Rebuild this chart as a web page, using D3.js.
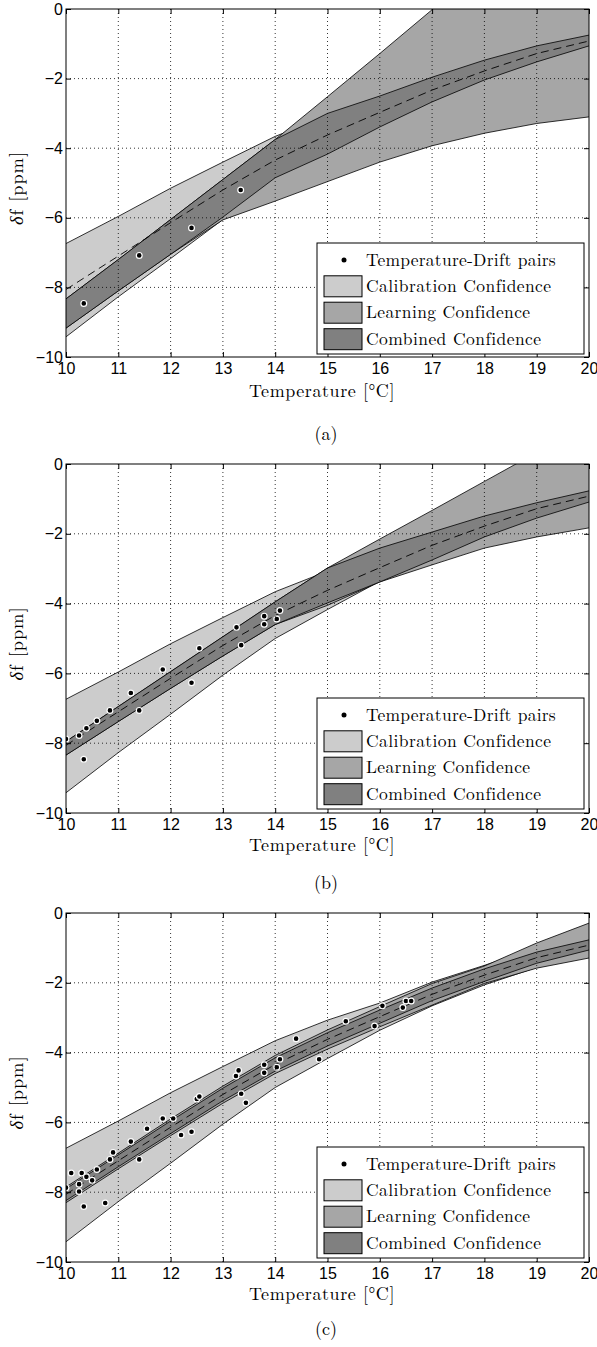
<!DOCTYPE html>
<html>
<head>
<meta charset="utf-8">
<script src="https://cdn.jsdelivr.net/npm/d3@7"></script>
<style>
  body { margin: 0; background: #fff; }
</style>
</head>
<body>
<svg id="chart" width="597" height="1347"></svg>
<script>
// temperature grid shared by every band
const temps = [10, 11, 12, 13, 14, 15, 16, 17, 18, 19, 20];

// calibration model (same in all three panels)
const calibMean  = [-8.06, -7.10, -6.14, -5.20, -4.34, -3.62, -2.97, -2.33, -1.78, -1.28, -0.92];
const calibUpper = [-6.74, -5.96, -5.15, -4.40, -3.66, -3.07, -2.58, -1.98, -1.50, -1.00, -0.62];
const calibLower = [-9.42, -8.27, -7.17, -6.05, -5.00, -4.17, -3.36, -2.66, -2.06, -1.56, -1.22];

// (a) few samples
const learnUpperA = [-8.33, -7.20, -6.05, -4.90, -3.75, -2.52, -1.28, -0.02, 1.25, 2.50, 3.80];
const learnLowerA = [-9.17, -8.10, -7.05, -6.06, -5.52, -4.96, -4.40, -3.93, -3.57, -3.29, -3.10];
const combUpperA  = [-8.33, -7.20, -6.05, -4.90, -3.75, -3.00, -2.50, -1.96, -1.47, -1.06, -0.75];
const combLowerA  = [-9.17, -8.10, -7.05, -5.98, -4.85, -4.17, -3.39, -2.67, -2.04, -1.52, -1.06];

// (b) more samples
const learnUpperB = [-7.95, -6.95, -5.95, -4.95, -3.95, -2.98, -2.15, -1.33, -0.50, 0.33, 1.15];
const learnLowerB = [-8.34, -7.38, -6.43, -5.50, -4.60, -4.05, -3.38, -2.89, -2.41, -2.09, -1.83];
const combUpperB  = [-7.95, -6.95, -5.95, -4.95, -3.95, -2.98, -2.41, -1.95, -1.49, -1.11, -0.77];
const combLowerB  = [-8.34, -7.38, -6.43, -5.50, -4.60, -3.98, -3.38, -2.75, -2.09, -1.55, -1.09];

// (c) all samples
const learnUpperC = [-7.85, -6.88, -5.90, -4.96, -4.08, -3.35, -2.68, -2.02, -1.52, -0.86, -0.29];
const learnLowerC = [-8.30, -7.33, -6.38, -5.45, -4.60, -3.90, -3.26, -2.64, -2.02, -1.58, -1.29];
const combUpperC  = [-7.90, -6.93, -5.96, -5.02, -4.15, -3.43, -2.78, -2.15, -1.60, -1.12, -0.77];
const combLowerC  = [-8.24, -7.27, -6.32, -5.38, -4.53, -3.81, -3.16, -2.51, -1.96, -1.44, -1.06];

// temperature-drift pairs
const pointsA = [[10.34, -8.46], [11.40, -7.08], [12.40, -6.29], [13.34, -5.20]];
const pointsB = [
  [10.00, -7.88], [10.25, -7.78], [10.34, -8.46], [10.39, -7.57], [10.59, -7.36],
  [10.84, -7.06], [11.24, -6.56], [11.40, -7.06], [11.85, -5.89], [12.40, -6.27],
  [12.55, -5.28], [13.26, -4.68], [13.35, -5.19], [13.79, -4.36], [13.79, -4.59],
  [14.03, -4.44], [14.09, -4.20]
];
const pointsC = [
  [10.00, -7.87], [10.10, -7.45], [10.25, -7.77], [10.25, -7.98], [10.30, -7.45],
  [10.34, -8.41], [10.39, -7.56], [10.50, -7.66], [10.59, -7.35], [10.75, -8.31],
  [10.84, -7.06], [10.90, -6.86], [11.24, -6.55], [11.40, -7.06], [11.55, -6.18],
  [11.85, -5.89], [12.05, -5.89], [12.20, -6.36], [12.40, -6.27], [12.50, -5.33],
  [12.55, -5.26], [13.25, -4.67], [13.30, -4.51], [13.35, -5.18], [13.44, -5.44],
  [13.79, -4.58], [13.79, -4.35], [14.03, -4.42], [14.09, -4.19], [14.40, -3.60],
  [14.84, -4.19], [15.35, -3.10], [15.90, -3.24], [16.05, -2.66], [16.44, -2.71],
  [16.50, -2.52], [16.60, -2.52]
];

const xTicks = [10, 11, 12, 13, 14, 15, 16, 17, 18, 19, 20];
const yTicks = [-10, -8, -6, -4, -2, 0];
const legendLabels = ['Temperature-Drift pairs', 'Calibration Confidence', 'Learning Confidence', 'Combined Confidence'];
const captions = ['(a)', '(b)', '(c)'];

const panels = [
  { name: 'a', top: 9,   bottom: 357,  title: 397,  caption: 440,  learnUpper: learnUpperA, learnLower: learnLowerA, combUpper: combUpperA, combLower: combLowerA, points: pointsA },
  { name: 'b', top: 464, bottom: 813,  title: 851,  caption: 889,  learnUpper: learnUpperB, learnLower: learnLowerB, combUpper: combUpperB, combLower: combLowerB, points: pointsB },
  { name: 'c', top: 913, bottom: 1262, title: 1300, caption: 1335, learnUpper: learnUpperC, learnLower: learnLowerC, combUpper: combUpperC, combLower: combLowerC, points: pointsC }
];

const FILL_CAL = '#cccccc', FILL_LEARN = '#a6a6a6', FILL_COMB = '#808080';
const SANS = '"Liberation Sans", Arial, Helvetica, sans-serif';
const SERIF = '"Latin Modern Roman", "CMU Serif", "Liberation Serif", "Times New Roman", serif';
const left = 66, right = 589;

const svg = d3.select('#chart');

// widen a text to a target width with letter spacing, keeping its height
function spreadTo(sel, target) {
  const w = sel.node().getComputedTextLength();
  const n = sel.text().length;
  sel.attr('letter-spacing', Math.max(0, (target - w) / n));
}

panels.forEach((p, pi) => {
  const x = d3.scaleLinear().domain([10, 20]).range([left, right]);
  const y = d3.scaleLinear().domain([-10, 0]).range([p.bottom, p.top]);
  const g = svg.append('g');

  g.append('clipPath').attr('id', 'clip-' + p.name)
    .append('rect').attr('x', left).attr('y', p.top)
    .attr('width', right - left).attr('height', p.bottom - p.top);

  const plot = g.append('g').attr('clip-path', `url(#clip-${p.name})`);

  // Bands: calibration, learning, combined (opaque, drawn in that order)
  const bands = [
    { upper: calibUpper, lower: calibLower, fill: FILL_CAL },
    { upper: p.learnUpper, lower: p.learnLower, fill: FILL_LEARN },
    { upper: p.combUpper, lower: p.combLower, fill: FILL_COMB }
  ];
  const area = d3.area().x(d => x(d.t)).y0(d => y(d.lo)).y1(d => y(d.hi));
  bands.forEach(b => {
    const rows = temps.map((t, i) => ({ t, hi: b.upper[i], lo: b.lower[i] }));
    plot.append('path').datum(rows).attr('d', area).attr('fill', b.fill);
    ['hi', 'lo'].forEach(k => {
      plot.append('path').datum(rows)
        .attr('d', d3.line().x(d => x(d.t)).y(d => y(d[k])))
        .attr('fill', 'none').attr('stroke', '#000').attr('stroke-width', 0.8);
    });
  });

  // Calibration curve
  plot.append('path')
    .datum(temps.map((t, i) => ({ t, v: calibMean[i] })))
    .attr('d', d3.line().x(d => x(d.t)).y(d => y(d.v)))
    .attr('fill', 'none').attr('stroke', '#000').attr('stroke-width', 0.9)
    .attr('stroke-dasharray', '8,5');

  // Dotted grid
  const grid = g.append('g').attr('stroke', '#000').attr('stroke-width', 0.8)
    .attr('stroke-dasharray', '1,3');
  grid.selectAll('line.vx').data(xTicks.slice(1, -1)).enter().append('line')
    .attr('x1', d => x(d)).attr('x2', d => x(d)).attr('y1', p.top).attr('y2', p.bottom);
  grid.selectAll('line.hy').data(yTicks.slice(1, -1)).enter().append('line')
    .attr('y1', d => y(d)).attr('y2', d => y(d)).attr('x1', left).attr('x2', right);

  // Points
  plot.selectAll('circle').data(p.points).enter().append('circle')
    .attr('cx', d => x(d[0])).attr('cy', d => y(d[1])).attr('r', 2.9)
    .attr('fill', '#000').attr('stroke', '#fff').attr('stroke-width', 1.2);

  // Axes with inward ticks
  const xa = g.append('g').attr('transform', `translate(0,${p.bottom})`)
    .call(d3.axisBottom(x).tickValues(xTicks).tickSize(-5).tickPadding(6));
  g.append('g').attr('transform', `translate(0,${p.top})`)
    .call(d3.axisTop(x).tickValues(xTicks).tickSize(-5).tickFormat(''));
  const ya = g.append('g').attr('transform', `translate(${left},0)`)
    .call(d3.axisLeft(y).tickValues(yTicks).tickSize(-5).tickPadding(3));
  g.append('g').attr('transform', `translate(${right},0)`)
    .call(d3.axisRight(y).tickValues(yTicks).tickSize(-5).tickFormat(''));
  g.selectAll('.domain').remove();
  g.selectAll('.tick line').attr('stroke', '#000');
  [xa, ya].forEach(a => a.selectAll('text')
    .attr('font-family', SANS).attr('font-size', 16).attr('fill', '#000'));

  g.append('rect').attr('x', left).attr('y', p.top)
    .attr('width', right - left).attr('height', p.bottom - p.top)
    .attr('fill', 'none').attr('stroke', '#000').attr('stroke-width', 1);

  // Axis titles
  const xt = g.append('text').attr('x', 322).attr('y', p.title)
    .attr('text-anchor', 'middle').attr('font-family', SERIF).attr('font-size', 18)
    .attr('fill', '#000').text('Temperature [°C]');
  spreadTo(xt, 146);

  const yt = g.append('text')
    .attr('transform', `translate(23,${(p.top + p.bottom) / 2 + 5}) rotate(-90)`)
    .attr('text-anchor', 'middle').attr('font-family', SERIF).attr('font-size', 18.5)
    .attr('fill', '#000');
  yt.append('tspan').attr('font-style', 'italic').text('δ');
  yt.append('tspan').text('f [ppm]');
  spreadTo(yt, 74);

  g.append('text').attr('x', 326).attr('y', p.caption)
    .attr('text-anchor', 'middle').attr('font-family', SERIF).attr('font-size', 18)
    .attr('fill', '#000').text(captions[pi]);

  // Legend
  const boxTop = p.top + 234;
  const lg = g.append('g');
  lg.append('rect').attr('x', 317).attr('y', boxTop).attr('width', 267).attr('height', 111)
    .attr('fill', '#fff').attr('stroke', '#000').attr('stroke-width', 1);
  const rowY = [17, 43.3, 69.7, 96.2].map(v => boxTop + v);
  lg.append('circle').attr('cx', 344).attr('cy', rowY[0]).attr('r', 2.5).attr('fill', '#000');
  [FILL_CAL, FILL_LEARN, FILL_COMB].forEach((c, i) => {
    lg.append('rect').attr('x', 324).attr('y', rowY[i + 1] - 10.5)
      .attr('width', 38).attr('height', 21).attr('fill', c)
      .attr('stroke', '#000').attr('stroke-width', 1);
  });
  const legendTargets = [190, 185, 164, 175];
  legendLabels.forEach((lab, i) => {
    const t = lg.append('text').attr('x', 366).attr('y', rowY[i] + 5.5)
      .attr('font-family', SERIF).attr('font-size', 17.5).attr('fill', '#000').text(lab);
    spreadTo(t, legendTargets[i]);
  });
});
</script>
</body>
</html>
